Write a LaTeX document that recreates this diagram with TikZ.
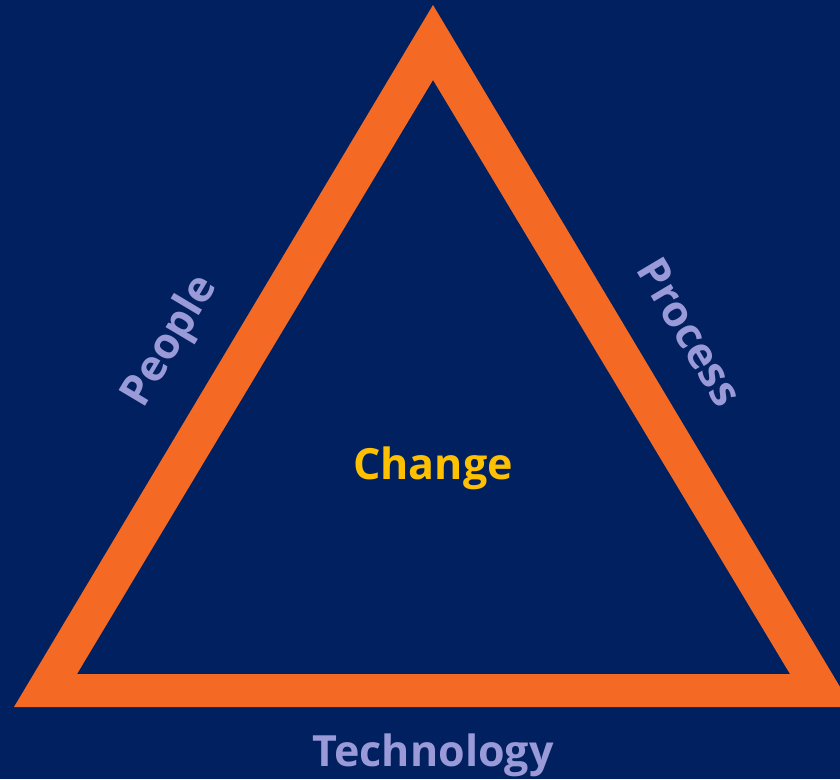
\documentclass[tikz,border=0pt]{standalone}
\usepackage{fontspec}
\setmainfont{Open Sans}
\usepackage{tikz}
\usetikzlibrary{positioning}
\definecolor{navy}{HTML}{002060}
\definecolor{frame}{HTML}{F46A25}
\definecolor{lavender}{HTML}{9A9AD8}
\definecolor{gold}{HTML}{FFC000}

\begin{document}
\begin{tikzpicture}[x=1pt,y=-1pt]
\tikzstyle{side}=[text=lavender,font=\bfseries\fontsize{43}{50}\selectfont,inner sep=0pt]
\tikzstyle{centre}=[text=gold,font=\bfseries\fontsize{43}{50}\selectfont,inner sep=0pt]
\useasboundingbox (0,0) rectangle (840,779);
\clip (0,0) rectangle (840,779);
\fill[navy] (0,0) rectangle (840,779);
% corners of the frame
\coordinate (top) at (433,5);
\coordinate (left) at (14,707);
\coordinate (right) at (852,707);
\coordinate (itop) at (433,80);
\coordinate (ileft) at (77,674);
\coordinate (iright) at (790,674);
\fill[frame,even odd rule] (top) -- (left) -- (right) -- cycle
  (itop) -- (ileft) -- (iright) -- cycle;
% labels
\node[side,rotate=59.2] (people) at (171,342) {People};
\node[side,rotate=-59.2] (process) at (690,332) {Process};
\node[side] (technology) at (433,755) {Technology};
\node[centre] (change) at (433,468) {Change};
\end{tikzpicture}
\end{document}
